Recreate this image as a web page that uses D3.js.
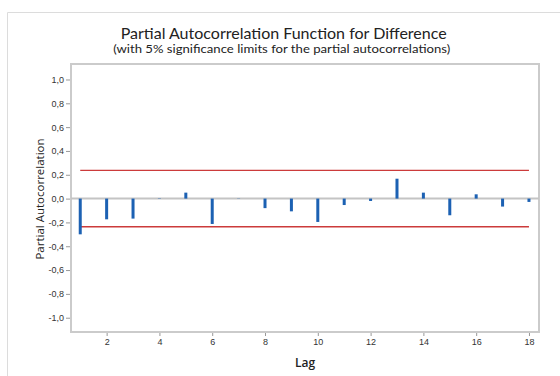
<!DOCTYPE html>
<html>
<head>
<meta charset="utf-8">
<title>PACF</title>
<script src="https://d3js.org/d3.v7.min.js"></script>
<style>
  body { margin: 0; background: #fff; }
  svg { display: block; font-family: "Open Sans", "Noto Sans", sans-serif; }
  .tick text { fill: #333; font-size: 9px; }
  .ttl { font-family: Lato, "Open Sans", sans-serif; }
</style>
</head>
<body>
<svg id="chart" width="560" height="376"></svg>
<script>
// lags and their partial autocorrelations
var lags = [1, 2, 3, 4, 5, 6, 7, 8, 9, 10, 11, 12, 13, 14, 15, 16, 17, 18];
var pacf = [-0.30, -0.174, -0.168, -0.003, 0.05, -0.213, 0.002, -0.08, -0.107,
            -0.196, -0.054, -0.02, 0.167, 0.05, -0.14, 0.036, -0.067, -0.028];
var limit = 0.237;   // 5% significance limit
var xTicks = [2, 4, 6, 8, 10, 12, 14, 16, 18];
var yTicks = [-1.0, -0.8, -0.6, -0.4, -0.2, 0.0, 0.2, 0.4, 0.6, 0.8, 1.0];

var svg = d3.select("#chart");
var W = 560, H = 376;
var m = { left: 71, right: 539, top: 64, bottom: 332 };

var x = d3.scaleLinear().domain([0.65, 18.38]).range([m.left, m.right]);
var y = d3.scaleLinear().domain([-1.12, 1.13]).range([m.bottom, m.top]);

// outer border (top and left only visible)
svg.append("path")
  .attr("d", "M7.5," + H + "V12.5H" + W)
  .attr("fill", "none").attr("stroke", "#dcdcdc").attr("stroke-width", 1);

// titles
svg.append("text").attr("class", "ttl")
  .attr("x", 283.7).attr("y", 38.5)
  .attr("text-anchor", "middle")
  .attr("font-size", 15).attr("fill", "#222")
  .attr("textLength", 326).attr("lengthAdjust", "spacingAndGlyphs")
  .text("Partial Autocorrelation Function for Difference");
svg.append("text").attr("class", "ttl")
  .attr("x", 281.7).attr("y", 52.5)
  .attr("text-anchor", "middle")
  .attr("font-size", 11.5).attr("fill", "#222")
  .attr("textLength", 337).attr("lengthAdjust", "spacingAndGlyphs")
  .text("(with 5% significance limits for the partial autocorrelations)");

// axes
var fmt = function (d) { return d3.format(".1f")(d).replace(".", ",").replace("−", "-"); };

var yAxis = svg.append("g")
  .attr("transform", "translate(" + (m.left - 1) + ",0)")
  .call(d3.axisLeft(y).tickValues(yTicks).tickFormat(fmt).tickSize(4).tickPadding(2));
var xAxis = svg.append("g")
  .attr("transform", "translate(0," + (m.bottom + 1) + ")")
  .call(d3.axisBottom(x).tickValues(xTicks).tickFormat(d3.format("d")).tickSize(3).tickPadding(3));
[yAxis, xAxis].forEach(function (a) {
  a.select(".domain").remove();
  a.selectAll(".tick line").attr("stroke", "#999");
});

// frame
svg.append("rect")
  .attr("x", m.left).attr("y", m.top)
  .attr("width", m.right - m.left).attr("height", m.bottom - m.top)
  .attr("fill", "none").attr("stroke", "#cbcbcb").attr("stroke-width", 2);

// zero line
svg.append("line")
  .attr("x1", m.left).attr("x2", m.right)
  .attr("y1", y(0)).attr("y2", y(0))
  .attr("stroke", "#c4c4c4").attr("stroke-width", 2);

// significance limits
[limit, -limit].forEach(function (v) {
  svg.append("line")
    .attr("x1", x(lags[0])).attr("x2", x(lags[lags.length - 1]))
    .attr("y1", y(v)).attr("y2", y(v))
    .attr("stroke", "#cc3b3b").attr("stroke-width", 1.4);
});

// spikes
svg.append("g").selectAll("rect")
  .data(lags)
  .enter().append("rect")
  .attr("x", function (d) { return x(d) - 1.5; })
  .attr("width", 3)
  .attr("y", function (d, i) { return Math.min(y(0), y(pacf[i])); })
  .attr("height", function (d, i) { return Math.abs(y(pacf[i]) - y(0)); })
  .attr("fill", "#1c61b3");

// axis titles
svg.append("text")
  .attr("transform", "translate(44," + ((m.top + m.bottom) / 2 + 1) + ") rotate(-90)")
  .attr("text-anchor", "middle")
  .attr("font-size", 11.5).attr("fill", "#222")
  .text("Partial Autocorrelation");
svg.append("text")
  .attr("x", (m.left + m.right) / 2).attr("y", 367)
  .attr("text-anchor", "middle")
  .attr("font-size", 12).attr("font-weight", 600).attr("fill", "#222")
  .text("Lag");
</script>
</body>
</html>
